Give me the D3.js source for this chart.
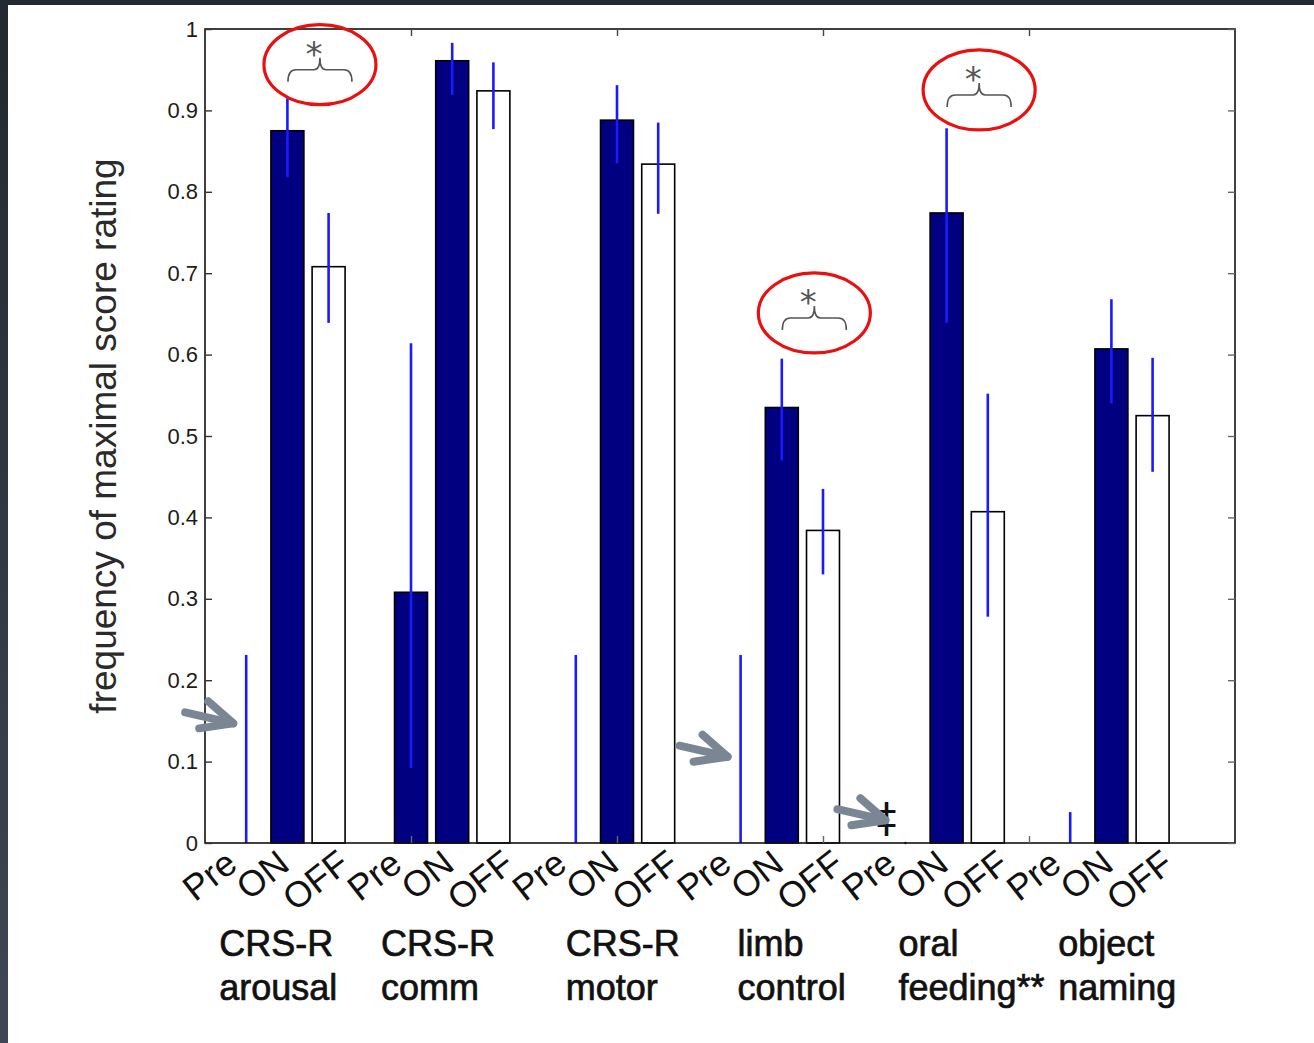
<!DOCTYPE html>
<html>
<head>
<meta charset="utf-8">
<script src="https://cdn.jsdelivr.net/npm/d3@7"></script>
<style>
  html, body { margin: 0; padding: 0; background: #ffffff; }
  svg { display: block; }
</style>
</head>
<body>
<svg id="chart" width="1314" height="1043"></svg>
<script>
// ---- data -------------------------------------------------------------
const categoryTop    = ["CRS-R", "CRS-R", "CRS-R", "limb", "oral", "object"];
const categoryBottom = ["arousal", "comm", "motor", "control", "feeding**", "naming"];
const conditions     = ["Pre", "ON", "OFF"];

// mean frequency of maximal score rating per condition
const preMean = [0, 0.308, 0, 0, 0, 0];
const onMean  = [0.875, 0.961, 0.888, 0.535, 0.774, 0.607];
const offMean = [0.708, 0.924, 0.834, 0.384, 0.407, 0.525];

// error bar extents (low / high)
const preLow  = [0, 0.092, 0, 0, 0, 0];
const preHigh = [0.231, 0.614, 0.231, 0.231, 0, 0.038];
const onLow   = [0.818, 0.919, 0.835, 0.470, 0.639, 0.540];
const onHigh  = [0.915, 0.983, 0.931, 0.595, 0.878, 0.668];
const offLow  = [0.639, 0.877, 0.773, 0.330, 0.278, 0.456];
const offHigh = [0.774, 0.959, 0.885, 0.435, 0.552, 0.596];

const yTicks = [0, 0.1, 0.2, 0.3, 0.4, 0.5, 0.6, 0.7, 0.8, 0.9, 1];
const yTickLabels = ["0", "0.1", "0.2", "0.3", "0.4", "0.5", "0.6", "0.7", "0.8", "0.9", "1"];

// ON vs OFF significance (group index, bracket level)
const sigGroups = [0, 3, 4];
const sigLevels = [0.950, 0.645, 0.919];

// highlighted Pre entries (group index, level pointed at)
const arrowGroups = [0, 3, 4];
const arrowLevels = [0.147, 0.106, 0.028];

// ---- layout -----------------------------------------------------------
const svg = d3.select("#chart");
const W = 1314, H = 1043;
const plot = { left: 205, right: 1235, top: 29, bottom: 843 };
const FONT = "Liberation Sans, Arial, sans-serif";

const x = d3.scaleLinear().domain([0, 5]).range([plot.left, plot.right]);
const y = d3.scaleLinear().domain([0, 1]).range([plot.bottom, plot.top]);

const groupCenter = i => 0.4 + 0.8 * i;
const condOffset = [-0.2, 0, 0.2];
const barWidth = 0.16;

// window frame
const defs = svg.append("defs");
const grad = defs.append("linearGradient").attr("id", "frameGrad")
  .attr("x1", 0).attr("y1", 0).attr("x2", 0).attr("y2", 1);
grad.append("stop").attr("offset", "0%").attr("stop-color", "#222930");
grad.append("stop").attr("offset", "100%").attr("stop-color", "#3d4854");
svg.append("rect").attr("x", 0).attr("y", 0).attr("width", W).attr("height", H).attr("fill", "#ffffff");
svg.append("rect").attr("x", 0).attr("y", 0).attr("width", W).attr("height", 5).attr("fill", "#222930");
svg.append("rect").attr("x", 0).attr("y", 0).attr("width", 8).attr("height", H).attr("fill", "url(#frameGrad)");

// rows of bar records
const series = [
  { name: conditions[0], mean: preMean, low: preLow, high: preHigh, fill: "#000080" },
  { name: conditions[1], mean: onMean,  low: onLow,  high: onHigh,  fill: "#000080" },
  { name: conditions[2], mean: offMean, low: offLow, high: offHigh, fill: "#ffffff" }
];
const records = [];
categoryTop.forEach((c, gi) => {
  series.forEach((s, si) => {
    records.push({
      gi, si, cond: s.name,
      pos: groupCenter(gi) + condOffset[si],
      mean: s.mean[gi], low: s.low[gi], high: s.high[gi], fill: s.fill
    });
  });
});

// bars
const bw = x(barWidth) - x(0);
svg.append("g").selectAll("rect").data(records.filter(d => d.mean > 0)).join("rect")
  .attr("x", d => x(d.pos) - bw / 2)
  .attr("y", d => y(d.mean))
  .attr("width", bw)
  .attr("height", d => y(0) - y(d.mean))
  .attr("fill", d => d.fill)
  .attr("stroke", "#000")
  .attr("stroke-width", 1.6);

// error bars
svg.append("g").selectAll("line").data(records).join("line")
  .attr("x1", d => x(d.pos)).attr("x2", d => x(d.pos))
  .attr("y1", d => y(d.low)).attr("y2", d => y(d.high))
  .attr("stroke", "#1a1aff")
  .attr("stroke-width", 2.6)
  .attr("stroke-linecap", d => d.high === d.low ? "round" : "butt");

// axes box
svg.append("rect")
  .attr("x", plot.left).attr("y", plot.top)
  .attr("width", plot.right - plot.left).attr("height", plot.bottom - plot.top)
  .attr("fill", "none").attr("stroke", "#111").attr("stroke-width", 1.6);

// y ticks, left (labelled) and right
const yAxisL = d3.axisLeft(y).tickValues(yTicks).tickSizeInner(-7).tickSizeOuter(0)
  .tickPadding(7).tickFormat((d, i) => yTickLabels[i]);
const gL = svg.append("g").attr("transform", `translate(${plot.left},0)`).call(yAxisL);
gL.select(".domain").remove();
gL.selectAll(".tick line").attr("stroke", "#333").attr("stroke-width", 1.4);
gL.selectAll(".tick text").attr("font-family", FONT)
  .attr("font-size", 22).attr("fill", "#1c1c1c");

const yAxisR = d3.axisRight(y).tickValues(yTicks).tickSizeInner(-7).tickSizeOuter(0).tickFormat("");
const gR = svg.append("g").attr("transform", `translate(${plot.right},0)`).call(yAxisR);
gR.select(".domain").remove();
gR.selectAll(".tick line").attr("stroke", "#666").attr("stroke-width", 1.4);

// x ticks (unlabelled) on top and bottom
const xTickVals = [1, 2, 3, 4];
const xB = svg.append("g").attr("transform", `translate(0,${plot.bottom})`)
  .call(d3.axisBottom(x).tickValues(xTickVals).tickSizeInner(-7).tickSizeOuter(0).tickFormat(""));
xB.select(".domain").remove();
xB.selectAll(".tick line").attr("stroke", "#666").attr("stroke-width", 1.4);
const xT = svg.append("g").attr("transform", `translate(0,${plot.top})`)
  .call(d3.axisTop(x).tickValues(xTickVals).tickSizeInner(-7).tickSizeOuter(0).tickFormat(""));
xT.select(".domain").remove();
xT.selectAll(".tick line").attr("stroke", "#444").attr("stroke-width", 1.4);

// y-axis title
svg.append("text")
  .attr("transform", `translate(116,${(plot.top + plot.bottom) / 2}) rotate(-90)`)
  .attr("text-anchor", "middle")
  .attr("font-family", FONT)
  .attr("font-size", 37)
  .attr("fill", "#2a2a2a")
  .text("frequency of maximal score rating");

// rotated condition labels, anchored at their baseline end
const labelEnd = [-7, 4, 23];
svg.append("g").selectAll("text").data(records).join("text")
  .attr("transform", d => `translate(${x(d.pos) + labelEnd[d.si]},868) rotate(-38)`)
  .attr("text-anchor", "end")
  .attr("font-family", FONT)
  .attr("font-size", 36)
  .attr("fill", "#111")
  .text(d => d.cond);

// category labels, two lines
const labelShift = [-27, -30, -10, -3, -7, -12];
const catG = svg.append("g")
  .attr("font-family", FONT)
  .attr("font-size", 36)
  .attr("fill", "#111")
  .attr("stroke", "#111")
  .attr("stroke-width", 0.7);
categoryTop.forEach((c, i) => {
  const sx = x(groupCenter(i) + condOffset[0]) + labelShift[i];
  catG.append("text").attr("x", sx).attr("y", 956).text(c);
  catG.append("text").attr("x", sx).attr("y", 1000).text(categoryBottom[i]);
});

// significance brackets
const sigG = svg.append("g");
sigGroups.forEach((gi, k) => {
  const cx = x(groupCenter(gi) + 0.158);
  const h = y(sigLevels[k]);
  const hw = 32;
  const brace = `M${cx - hw},${h + 12} Q${cx - hw},${h} ${cx - hw + 8},${h}
    L${cx - 6},${h} Q${cx},${h} ${cx},${h - 12}
    Q${cx},${h} ${cx + 6},${h} L${cx + hw - 8},${h} Q${cx + hw},${h} ${cx + hw},${h + 12}`;
  sigG.append("path").attr("d", brace).attr("fill", "none")
    .attr("stroke", "#555").attr("stroke-width", 1.6);
  sigG.append("text").attr("x", cx - 6).attr("y", h - 4)
    .attr("text-anchor", "middle")
    .attr("font-family", "DejaVu Sans, sans-serif")
    .attr("font-size", 34).attr("fill", "#555")
    .text("*");
  sigG.append("ellipse").attr("cx", cx).attr("cy", h - 5)
    .attr("rx", 56).attr("ry", 40)
    .attr("fill", "none").attr("stroke", "#e81010").attr("stroke-width", 3.2);
});

// double dagger next to the oral feeding Pre entry
svg.append("text")
  .attr("x", x(groupCenter(4) + condOffset[0]) - 19)
  .attr("y", 832)
  .attr("text-anchor", "middle")
  .attr("font-family", "DejaVu Sans, sans-serif")
  .attr("font-size", 40).attr("fill", "#111")
  .text("\u2021");

// pointer arrows
const arrG = svg.append("g").attr("fill", "none").attr("stroke", "#7b8694")
  .attr("stroke-width", 8).attr("stroke-linecap", "round").attr("stroke-linejoin", "round");
arrowGroups.forEach((gi, k) => {
  const tx = x(groupCenter(gi) + condOffset[0]) - (k === 2 ? 20 : 13);
  const ty = y(arrowLevels[k]);
  arrG.append("path").attr("d", `M${tx - 48},${ty - 11} L${tx},${ty}`);
  arrG.append("path").attr("d", `M${tx - 25},${ty - 22} L${tx},${ty} L${tx - 34},${ty + 5}`);
});
</script>
</body>
</html>
